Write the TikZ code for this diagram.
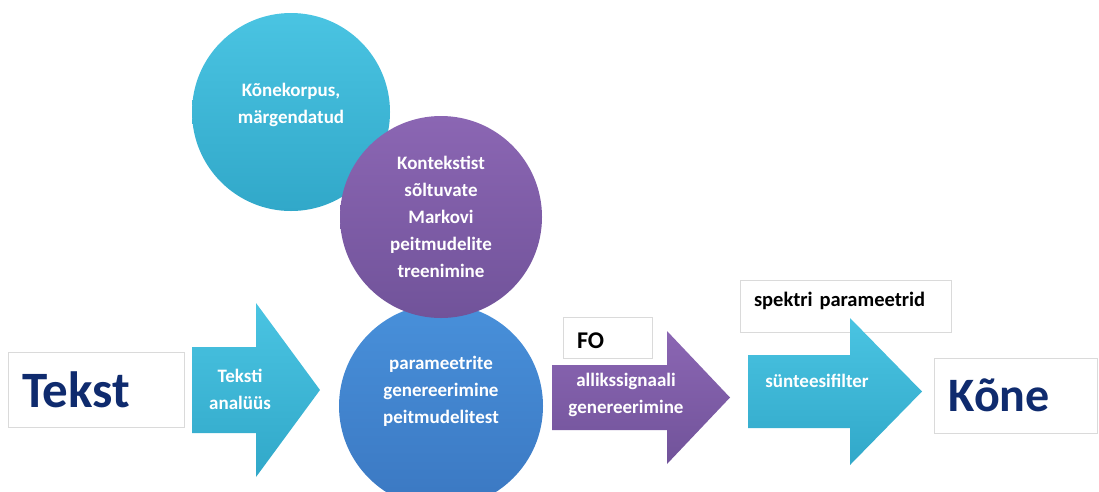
\documentclass[tikz,border=0pt]{standalone}
\usepackage{fontspec}
\setmainfont{Carlito}
\definecolor{cyanhi}{HTML}{4AC4E2}
\definecolor{cyanlo}{HTML}{31A8C9}
\definecolor{purphi}{HTML}{8B66B3}
\definecolor{purplo}{HTML}{71539A}
\definecolor{bluehi}{HTML}{4890DA}
\definecolor{bluelo}{HTML}{3B78C2}
\definecolor{navy}{HTML}{0F2B6E}
\definecolor{boxgray}{HTML}{DADADA}
\begin{document}
\begin{tikzpicture}[x=1pt, y=-1pt,
    ball/.style={circle, minimum size=#1, inner sep=0pt, text=white,
      font=\bfseries\fontsize{19}{27}\selectfont, align=center},
    box/.style={draw=boxgray, line width=0.8pt, fill=white, inner xsep=14pt,
      inner ysep=0pt, align=left},
    label/.style={text=white, font=\bfseries\fontsize{19}{27}\selectfont, align=center}]
  \useasboundingbox (0,0) rectangle (1099,491);

  % circles
  \node[ball=198pt, top color=cyanhi, bottom color=cyanlo] (korpus) at (291,112)
    {Kõnekorpus,\\märgendatud\\[-10pt]};
  \node[ball=204pt, top color=bluehi, bottom color=bluelo] (param) at (441,406)
    {parameetrite\\genereerimine\\peitmudelitest\\[6pt]};
  \node[ball=202pt, top color=purphi, bottom color=purplo] (markov) at (441,217)
    {Kontekstist\\sõltuvate\\Markovi\\peitmudelite\\treenimine};

  % boxes
  \node[box, minimum width=176pt, minimum height=75pt, text width=148pt,
    font=\bfseries\fontsize{51}{55}\selectfont, text=navy] (tekst) at (96,389.5) {Tekst};
  \node[box, minimum width=89pt, minimum height=41pt, text width=61pt, text height=22pt,
    font=\bfseries\fontsize{24}{26}\selectfont] (fo) at (607.5,337.5) {FO};
  \node[box, minimum width=211pt, minimum height=52pt, text width=183pt, text depth=14pt,
    font=\bfseries\fontsize{20.5}{23}\selectfont] (spektr) at (845.5,306) {spektri parameetrid};
  \node[box, minimum width=163pt, minimum height=75pt, text width=135pt,
    font=\bfseries\fontsize{48}{52}\selectfont, text=navy] (kone) at (1016,395.5) {Kõne};

  % arrows
  \shade[top color=cyanhi, bottom color=cyanlo] (192,347) -- (256,347) -- (256,303)
    -- (320,390) -- (256,477) -- (256,433) -- (192,433) -- cycle;
  \shade[top color=purphi, bottom color=purplo] (552,365) -- (667,365) -- (667,331)
    -- (730,397.5) -- (667,464) -- (667,430) -- (552,430) -- cycle;
  \shade[top color=cyanhi, bottom color=cyanlo] (748,355) -- (850,355) -- (850,318)
    -- (922,391.5) -- (850,465) -- (850,428) -- (748,428) -- cycle;

  \node[label] (analyys) at (240,389) {Teksti\\analüüs};
  \node[label] (allik) at (626,395) {allikssignaali\\genereerimine};
  \node[label] (filter) at (817,381) {sünteesifilter};
\end{tikzpicture}
\end{document}
